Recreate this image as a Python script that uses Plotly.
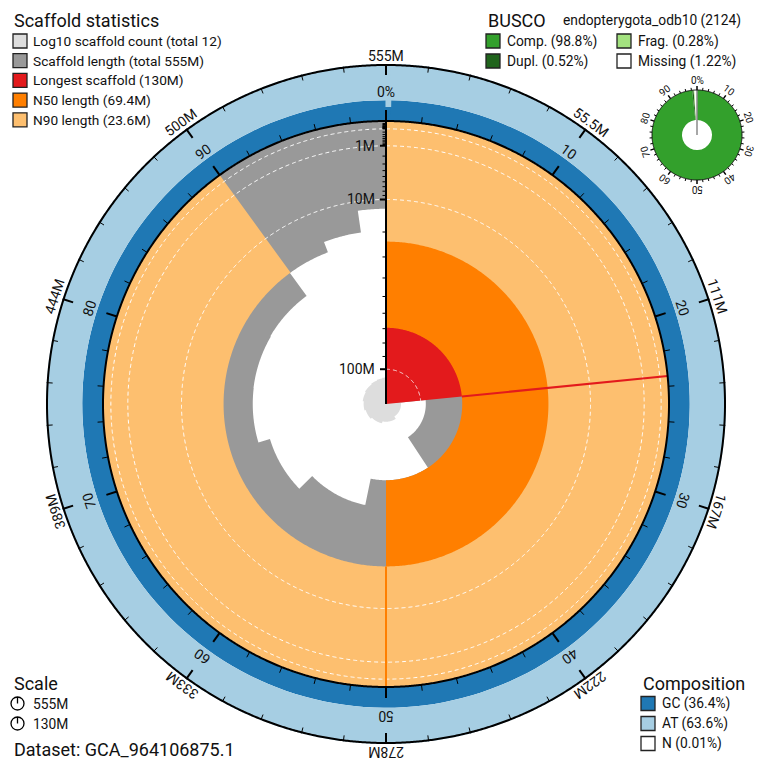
import math
import numpy as np
import plotly.graph_objects as go

W, H = 766, 771

# ---------------- data ----------------
scaffold_lengths = [130.0e6, 96.0e6, 69.4e6, 52.5e6, 42.5e6, 36.4e6, 36.3e6,
                    36.0e6, 23.6e6, 19.5e6, 12.5e6, 0.3e6]
total_length = 555e6
longest = 130e6
n50 = 69.4e6
n90 = 23.6e6

length_ticks_major = [1e8, 1e7, 1e6]
length_tick_labels = ["100M", "10M", "1M"]
length_ticks_minor = [m * 10 ** e for e in (4, 5, 6, 7) for m in range(2, 10)] + [1e5, 1e4]

outer_tick_labels = ["555M", "55.5M", "111M", "167M", "222M", "278M",
                     "333M", "389M", "444M", "500M"]
inner_tick_labels = ["0%", "10", "20", "30", "40", "50", "60", "70", "80", "90"]

comp_start = [0.0, 0.25]
comp_end = [0.25, 100.0]
comp_gc = [24.5, 36.4]

busco_comp = 98.8
busco_dupl = 0.52
busco_frag = 0.28
busco_missing = 1.22
busco_tick_labels = ["0%", "10", "20", "30", "40", "50", "60", "70", "80", "90"]

stat_legend = ["Log10 scaffold count (total 12)", "Scaffold length (total 555M)",
               "Longest scaffold (130M)", "N50 length (69.4M)", "N90 length (23.6M)"]
busco_legend = ["Comp. (98.8%)", "Dupl. (0.52%)", "Frag. (0.28%)", "Missing (1.22%)"]
comp_legend = ["GC (36.4%)", "AT (63.6%)", "N (0.01%)"]
scale_legend = ["555M", "130M"]

# ---------------- style ----------------
C_COUNT = "#dddddd"
C_LEN = "#999999"
C_LONG = "#e31a1c"
C_N50 = "#ff7f00"
C_N90 = "#fdbf6f"
C_GC = "#1f78b4"
C_AT = "#a6cee3"
C_N = "#ffffff"
B_COMP = "#33a02c"
B_DUPL = "#20641c"
B_FRAG = "#a3e27f"
B_MISS = "#ffffff"
FONT = "Roboto"
TXT = "#111111"

CX, CY = 386, 404
R_IN, R_OUT, P_RANGE = 283, 340, 360
BX, BY, B_RANGE = 697, 135, 60
B_IN, B_OUTR = 15, 45


def r_len(L):
    return R_IN * (1 - math.sqrt(L / longest))


def r_cnt(n):
    return 10.4 + 15.4 * math.log10(n)


def px(r, deg, cx=CX, cy=CY):
    a = math.radians(deg)
    return cx + r * math.sin(a), cy - r * math.cos(a)


fig = go.Figure()

# cumulative positions (degrees)
starts, ends = [], []
acc = 0.0
for L in scaffold_lengths:
    starts.append(acc / total_length * 360)
    acc += L
    ends.append(acc / total_length * 360)


def arc(a0, a1, step=0.5):
    n = max(2, int(abs(a1 - a0) / step) + 1)
    return list(np.linspace(a0, a1, n))


def poly(r, theta, color, sub="polar"):
    return go.Scatterpolar(r=r, theta=theta, mode="lines", fill="toself", fillcolor=color,
                           line=dict(width=0, color=color), subplot=sub,
                           showlegend=False, hoverinfo="skip")


def sector(a0, a1, r0, r1, color, sub="polar"):
    o = arc(a0, a1)
    i = arc(a1, a0)
    return poly([r1] * len(o) + [r0] * len(i), o + i, color, sub)


def bp(theta, width, base, r, color, sub="polar"):
    return go.Barpolar(theta=theta, width=width, base=base, r=r,
                       marker=dict(color=color, line=dict(width=0)),
                       subplot=sub, showlegend=False, hoverinfo="skip")


# scaffold length spiral: region between r_len(L) and the inner circle
pr, pt = [], []
outer = arc(0, 360)
pr += [R_IN] * len(outer)
pt += outer
for s, e, L in reversed(list(zip(starts, ends, scaffold_lengths))):
    a = arc(e, s)
    pr += [r_len(L)] * len(a)
    pt += a
fig.add_trace(poly(pr, pt, C_LEN))

# log10 count spiral
pr, pt = [0], [0]
for i, (s, e) in enumerate(zip(starts, ends)):
    a = arc(s, e)
    pr += [r_cnt(i + 1)] * len(a)
    pt += a
pr += [0]
pt += [0]
fig.add_trace(poly(pr, pt, C_COUNT))

# longest, N50, N90 sectors
lf = longest / total_length * 360
fig.add_trace(sector(0, lf, 0, R_IN, C_LONG))
fig.add_trace(sector(0, 180, r_len(n50), R_IN, C_N50))
fig.add_trace(sector(0, 324, r_len(n90), R_IN, C_N90))

# composition ring
ring = R_OUT - R_IN
cth = [(s + e) / 2 * 3.6 for s, e in zip(comp_start, comp_end)]
cw = [(e - s) * 3.6 + 0.2 for s, e in zip(comp_start, comp_end)]
fig.add_trace(bp(cth, cw, [R_IN] * len(cth), [g / 100 * ring for g in comp_gc], C_GC))
fig.add_trace(bp(cth, cw, [R_IN + g / 100 * ring for g in comp_gc],
                 [(100 - g) / 100 * ring for g in comp_gc], C_AT))


def sp(r, theta, color, width, dash=None, sub="polar"):
    return go.Scatterpolar(r=r, theta=theta, mode="lines",
                           line=dict(color=color, width=width, dash=dash),
                           subplot=sub, showlegend=False, hoverinfo="skip")


circ = np.linspace(0, 360, 1441)
# dashed white scale circles
for L in [1e8, 1e7, 1e6, 1e5]:
    fig.add_trace(sp([r_len(L)] * len(circ), circ, "white", 1, dash="4px,3px"))

# red and orange marker lines
fig.add_trace(sp([r_len(n50), R_IN], [lf, lf], C_LONG, 2))
fig.add_trace(sp([r_len(n90), R_IN], [180, 180], C_N50, 2))

# circles
fig.add_trace(sp([R_IN] * len(circ), circ, "black", 2))
fig.add_trace(sp([R_OUT - 1] * len(circ), circ, "black", 2))


def ticks(r0, r1, angles):
    rr, tt = [], []
    for a in angles:
        rr += [r0, r1, None]
        tt += [a, a, None]
    return rr, tt


maj = [i * 36 for i in range(10)]
mnr = [i * 7.2 for i in range(50) if i % 5]
rr, tt = ticks(R_IN, R_IN + 11, maj)
fig.add_trace(sp(rr, tt, "black", 2))
rr, tt = ticks(R_IN, R_IN + 6, mnr)
fig.add_trace(sp(rr, tt, "black", 1))
rr, tt = ticks(R_OUT, R_OUT - 11, maj)
fig.add_trace(sp(rr, tt, "black", 2))
rr, tt = ticks(R_OUT, R_OUT - 6, mnr)
fig.add_trace(sp(rr, tt, "black", 1))

# radial length axis
fig.add_trace(sp([0, R_IN], [0, 0], "black", 2))


def rad_ticks(vals, ln):
    rr, tt = [], []
    for v in vals:
        r = r_len(v)
        rr += [r, math.hypot(r, ln), None]
        tt += [0, -math.degrees(math.atan2(ln, r)), None]
    return rr, tt


rr, tt = rad_ticks(length_ticks_major, 6)
fig.add_trace(sp(rr, tt, "black", 2))
rr, tt = rad_ticks(length_ticks_minor, 3.5)
fig.add_trace(sp(rr, tt, "black", 1))

# ---------------- BUSCO donut ----------------
b_single = busco_comp - busco_dupl
segs = [(0, b_single, B_COMP), (b_single, busco_comp, B_DUPL),
        (busco_comp, busco_comp + busco_frag, B_FRAG),
        (busco_comp + busco_frag, 100, B_MISS)]
for s, e, c in segs:
    fig.add_trace(bp([(s + e) / 2 * 3.6], [(e - s) * 3.6], [B_IN], [B_OUTR - B_IN], c, sub="polar2"))
fig.add_trace(sp([0, B_OUTR], [0, 0], "#8a8a8a", 1.5, sub="polar2"))
fig.add_trace(sp([B_OUTR] * len(circ), circ, "black", 1, sub="polar2"))
rr, tt = ticks(B_OUTR, B_OUTR + 4, maj)
fig.add_trace(sp(rr, tt, "black", 1.5, sub="polar2"))
rr, tt = ticks(B_OUTR, B_OUTR + 2.5, mnr)
fig.add_trace(sp(rr, tt, "black", 1, sub="polar2"))

# ---------------- cartesian overlay (legends) ----------------
fig.add_trace(go.Scatter(x=[0, W], y=[0, H], mode="markers", marker=dict(size=1, color="rgba(0,0,0,0)"),
                         showlegend=False, hoverinfo="skip"))

ann = []


def text(x, y, s, size=14, anchor="left", angle=0):
    ann.append(dict(x=x, y=y, xref="x", yref="y", text=s, showarrow=False,
                    xanchor=anchor, yanchor="middle", textangle=angle,
                    font=dict(family=FONT, size=size, color=TXT)))


shapes = []


def square(x, y, color):
    shapes.append(dict(type="rect", xref="x", yref="y", x0=x, x1=x + 14, y0=y - 7, y1=y + 7,
                       fillcolor=color, line=dict(color="#222", width=1.3)))


# Scaffold statistics legend
text(12, 20, "Scaffold statistics", 18)
for i, (lab, col) in enumerate(zip(stat_legend, [C_COUNT, C_LEN, C_LONG, C_N50, C_N90])):
    y = 41 + i * 19.7
    square(13, y, col)
    text(31, y, lab, 13.7)

# BUSCO legend
text(486, 20, "BUSCO", 18)
text(561, 20, "endopterygota_odb10 (2124)", 13.8)
for lab, col, x, y in zip(busco_legend, [B_COMP, B_DUPL, B_FRAG, B_MISS],
                          [486, 486, 617, 617], [41, 61, 41, 61]):
    square(x, y, col)
    text(x + 19, y, lab, 13.8)

# Composition legend
text(641, 683, "Composition", 18)
for i, (lab, col) in enumerate(zip(comp_legend, [C_GC, C_AT, C_N])):
    y = 703.5 + i * 20
    square(641, y, col)
    text(660, y, lab, 13.8)

# Scale legend
text(12, 683, "Scale", 18)
for i, lab in enumerate(scale_legend):
    y = 703.5 + i * 20
    shapes.append(dict(type="circle", xref="x", yref="y", x0=11, x1=24, y0=y - 6.5, y1=y + 6.5,
                       line=dict(color="black", width=1.3)))
    shapes.append(dict(type="line", xref="x", yref="y", x0=17.5, x1=17.5, y0=y - 6.5, y1=y,
                       line=dict(color="black", width=1.3)))
    text(31, y, lab, 13.8)
text(12, 749, "Dataset: GCA_964106875.1", 18)

# ring labels
for i in range(10):
    deg = i * 36
    ang = deg if deg <= 180 else deg - 360
    x, y = px(348, deg)
    text(x, y, outer_tick_labels[i], 14, "center", ang)
    x, y = px(312, deg)
    text(x, y, inner_tick_labels[i], 14, "center", ang)
    x, y = px(55, deg, BX, BY)
    text(x, y, busco_tick_labels[i], 10, "center", ang)

# radial axis labels
for v, lab in zip(length_ticks_major, length_tick_labels):
    text(CX - 9, CY - r_len(v), lab, 14, "right")

fig.update_layout(
    width=W, height=H, margin=dict(l=0, r=0, t=0, b=0),
    paper_bgcolor="white", plot_bgcolor="rgba(0,0,0,0)",
    showlegend=False,
    xaxis=dict(range=[0, W], domain=[0, 1], visible=False, fixedrange=True),
    yaxis=dict(range=[H, 0], domain=[0, 1], visible=False, fixedrange=True),
    polar=dict(
        domain=dict(x=[(CX - P_RANGE) / W, (CX + P_RANGE) / W],
                    y=[(H - CY - P_RANGE) / H, (H - CY + P_RANGE) / H]),
        bgcolor="rgba(0,0,0,0)", barmode="overlay", hole=0,
        radialaxis=dict(range=[0, P_RANGE], visible=False),
        angularaxis=dict(rotation=90, direction="clockwise", visible=False),
    ),
    polar2=dict(
        domain=dict(x=[(BX - B_RANGE) / W, (BX + B_RANGE) / W],
                    y=[(H - BY - B_RANGE) / H, (H - BY + B_RANGE) / H]),
        bgcolor="rgba(0,0,0,0)", barmode="overlay", hole=0,
        radialaxis=dict(range=[0, B_RANGE], visible=False),
        angularaxis=dict(rotation=90, direction="clockwise", visible=False),
    ),
    annotations=ann, shapes=shapes,
)

fig.write_html("out.html")
